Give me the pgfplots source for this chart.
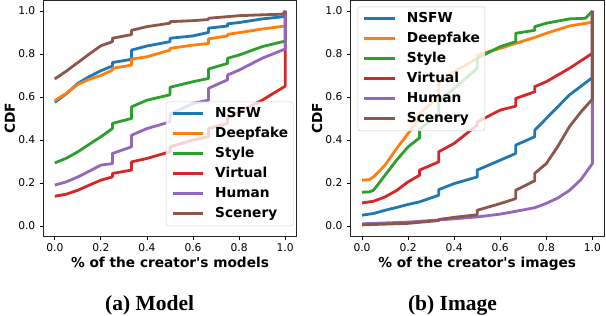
\documentclass[border=0pt]{standalone}
\usepackage{fontspec}
\usepackage{pgfplots}
\pgfplotsset{compat=1.18}
\newfontfamily\dejavu[Ligatures=TeXOff]{DejaVu Sans}
\newfontfamily\capfont{Liberation Serif}
\definecolor{tabblue}{HTML}{1F77B4}
\definecolor{taborange}{HTML}{FF7F0E}
\definecolor{tabgreen}{HTML}{2CA02C}
\definecolor{tabred}{HTML}{D62728}
\definecolor{tabpurple}{HTML}{9467BD}
\definecolor{tabbrown}{HTML}{8C564B}
\pgfplotsset{
  cdfaxis/.style={
    scale only axis, width=253.4pt, height=236.5pt,
    xmin=-0.05, xmax=1.05, ymin=-0.05, ymax=1.05,
    xtick={0,0.2,0.4,0.6,0.8,1.0}, ytick={0,0.2,0.4,0.6,0.8,1.0},
    tick align=outside, tick pos=left, major tick length=3.5pt,
    every tick/.style={black, line width=0.8pt},
    axis line style={black!85, line width=0.8pt},
    /pgf/number format/assume math mode=true,
    /pgf/number format/fixed, /pgf/number format/fixed zerofill, /pgf/number format/precision=1,
    tick label style={font=\dejavu\fontsize{10.7}{12}\selectfont},
    yticklabel style={xshift=-1pt},
    every axis y label/.style={at={(axis description cs:-0.112,0.5)}, rotate=90, anchor=base, font=\dejavu\bfseries\fontsize{13.7}{15}\selectfont},
    every axis x label/.style={at={(axis description cs:0.5,-0.1323)}, anchor=base, font=\dejavu\bfseries\fontsize{13.7}{15}\selectfont},
    ylabel={CDF},
    legend cell align=left,
    legend image code/.code={\draw[#1, line width=3pt, line cap=butt] (0pt,0pt) -- (30.3pt,0pt);},
    legend style={font=\dejavu\bfseries\fontsize{13.7}{15}\selectfont,
      draw=black!20, fill=white, fill opacity=0.8, text opacity=1, draw opacity=1,
      rounded corners=2.5pt, inner sep=5pt, row sep=6pt,
      nodes={inner sep=0pt, text height=10.5pt, text depth=3.5pt},
      /tikz/every odd column/.append style={column sep=10.7pt}},
    every axis plot/.append style={line width=2.8pt, line join=round, no markers},
  }
}
\begin{document}
\begin{tikzpicture}[x=1pt,y=1pt]
\useasboundingbox (0,0) rectangle (606,316);
\begin{axis}[cdfaxis, at={(43.3pt,79.3pt)}, anchor=south west,
  xlabel={\% of the creator's models},
  legend style={at={(axis description cs:0.4842,0.5708)}, anchor=north west}]
\addplot[tabblue] coordinates {(0,0.575) (0.05,0.615) (0.1,0.663) (0.15,0.695) (0.2,0.722) (0.25,0.744) (0.25,0.76) (0.333,0.775) (0.333,0.818) (0.4,0.837) (0.5,0.857) (0.5,0.873) (0.6,0.884) (0.667,0.9) (0.667,0.92) (0.75,0.93) (0.75,0.94) (0.8,0.946) (0.9,0.963) (1.0,0.974) (1.0,1.0)};
\addlegendentry{NSFW}
\addplot[taborange] coordinates {(0,0.583) (0.05,0.617) (0.1,0.658) (0.15,0.683) (0.2,0.70) (0.25,0.725) (0.25,0.733) (0.333,0.748) (0.333,0.776) (0.4,0.787) (0.5,0.818) (0.5,0.826) (0.6,0.841) (0.667,0.849) (0.667,0.87) (0.75,0.884) (0.75,0.891) (0.8,0.899) (0.9,0.916) (1,0.93) (1,1.0)};
\addlegendentry{Deepfake}
\addplot[tabgreen] coordinates {(0,0.293) (0.05,0.315) (0.1,0.345) (0.15,0.38) (0.2,0.415) (0.25,0.453) (0.25,0.477) (0.333,0.5) (0.333,0.554) (0.4,0.585) (0.5,0.61) (0.5,0.645) (0.6,0.671) (0.667,0.686) (0.667,0.73) (0.75,0.756) (0.75,0.78) (0.8,0.795) (0.9,0.834) (1,0.86) (1,1.0)};
\addlegendentry{Style}
\addplot[tabred] coordinates {(0,0.138) (0.05,0.148) (0.1,0.166) (0.15,0.19) (0.2,0.213) (0.25,0.228) (0.25,0.244) (0.333,0.26) (0.333,0.298) (0.4,0.314) (0.5,0.345) (0.5,0.368) (0.6,0.40) (0.667,0.415) (0.667,0.453) (0.75,0.477) (0.75,0.50) (0.8,0.53) (0.9,0.585) (1,0.65) (1,1.0)};
\addlegendentry{Virtual}
\addplot[tabpurple] coordinates {(0,0.19) (0.05,0.205) (0.1,0.228) (0.15,0.255) (0.2,0.283) (0.25,0.29) (0.25,0.337) (0.333,0.368) (0.333,0.422) (0.4,0.453) (0.5,0.484) (0.5,0.52) (0.6,0.57) (0.667,0.585) (0.667,0.64) (0.75,0.68) (0.75,0.702) (0.8,0.725) (0.9,0.78) (1,0.823) (1,1.0)};
\addlegendentry{Human}
\addplot[tabbrown] coordinates {(0,0.684) (0.05,0.72) (0.1,0.76) (0.15,0.8) (0.2,0.838) (0.25,0.857) (0.25,0.873) (0.333,0.89) (0.333,0.91) (0.4,0.927) (0.5,0.943) (0.5,0.95) (0.6,0.955) (0.667,0.96) (0.667,0.966) (0.8,0.978) (0.9,0.982) (0.99,0.985) (1,1.0)};
\addlegendentry{Scenery}
\end{axis}
\begin{axis}[cdfaxis, at={(350.5pt,79.3pt)}, anchor=south west,
  xlabel={\% of the creator's images},
  legend style={at={(axis description cs:0.0284,0.9725)}, anchor=north west}]
\addplot[tabblue] coordinates {(0,0.05) (0.05,0.058) (0.1,0.073) (0.15,0.086) (0.2,0.1) (0.25,0.112) (0.333,0.143) (0.333,0.169) (0.4,0.197) (0.5,0.228) (0.5,0.26) (0.6,0.306) (0.667,0.337) (0.667,0.376) (0.75,0.415) (0.75,0.446) (0.8,0.5) (0.9,0.609) (1,0.69) (1,1.0)};
\addlegendentry{NSFW}
\addplot[taborange] coordinates {(0,0.213) (0.03,0.215) (0.05,0.228) (0.1,0.283) (0.15,0.36) (0.2,0.43) (0.25,0.50) (0.25,0.523) (0.333,0.60) (0.333,0.663) (0.4,0.717) (0.5,0.78) (0.5,0.795) (0.6,0.826) (0.667,0.849) (0.75,0.877) (0.8,0.896) (0.9,0.93) (0.99,0.946) (1,0.946) (1,1.0)};
\addlegendentry{Deepfake}
\addplot[tabgreen] coordinates {(0,0.157) (0.03,0.158) (0.05,0.166) (0.1,0.236) (0.15,0.306) (0.2,0.368) (0.25,0.41) (0.25,0.45) (0.333,0.523) (0.333,0.578) (0.4,0.64) (0.5,0.733) (0.5,0.78) (0.6,0.834) (0.667,0.857) (0.667,0.896) (0.75,0.91) (0.75,0.927) (0.8,0.943) (0.9,0.963) (0.97,0.966) (1,1.0)};
\addlegendentry{Style}
\addplot[tabred] coordinates {(0,0.107) (0.05,0.115) (0.1,0.135) (0.15,0.165) (0.2,0.205) (0.25,0.236) (0.25,0.26) (0.333,0.298) (0.333,0.345) (0.4,0.384) (0.5,0.469) (0.5,0.484) (0.6,0.539) (0.667,0.557) (0.667,0.593) (0.75,0.624) (0.75,0.648) (0.8,0.671) (0.9,0.733) (1,0.803) (1,1.0)};
\addlegendentry{Virtual}
\addplot[tabpurple] coordinates {(0,0.01) (0.2,0.018) (0.4,0.033) (0.5,0.042) (0.6,0.055) (0.667,0.068) (0.75,0.085) (0.8,0.105) (0.85,0.13) (0.9,0.165) (0.95,0.215) (0.98,0.26) (1,0.29) (1,1.0)};
\addlegendentry{Human}
\addplot[tabbrown] coordinates {(0,0.005) (0.2,0.012) (0.333,0.025) (0.333,0.03) (0.4,0.04) (0.5,0.052) (0.5,0.073) (0.6,0.104) (0.667,0.127) (0.667,0.166) (0.75,0.21) (0.75,0.245) (0.8,0.29) (0.85,0.37) (0.9,0.461) (0.95,0.53) (1,0.59) (1,1.0)};
\addlegendentry{Scenery}
\end{axis}
\node[anchor=base, font=\capfont\bfseries\fontsize{21.5}{23}\selectfont] at (149.6,5.3) {(a) Model};
\node[anchor=base, font=\capfont\bfseries\fontsize{21.5}{23}\selectfont] at (452.5,5.3) {(b) Image};
\end{tikzpicture}
\end{document}
